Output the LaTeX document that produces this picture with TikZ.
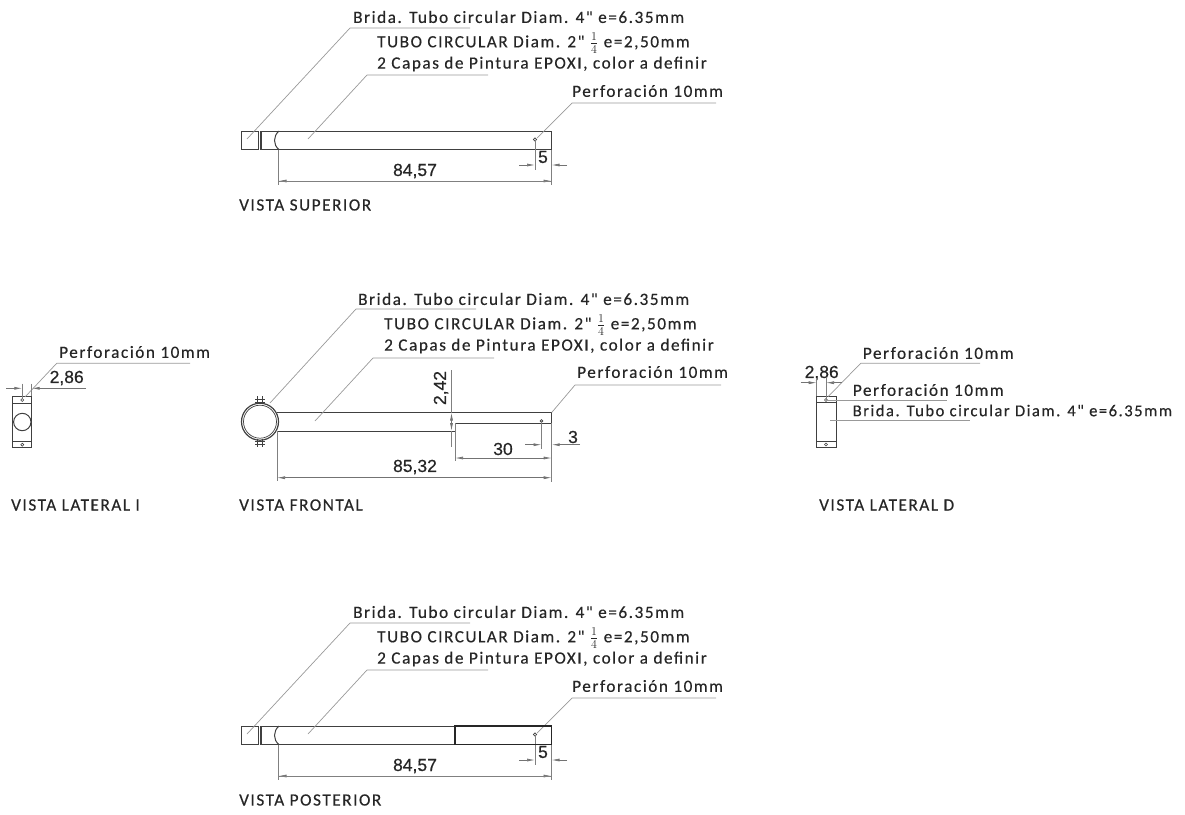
\documentclass[tikz,border=0pt]{standalone}
\usepackage{amsmath}
\usepackage{fontspec}
\usetikzlibrary{arrows.meta}
\newfontfamily\notefont[LetterSpace=9,FakeBold=0.4]{Carlito}
\setmainfont[FakeBold=0.5]{Liberation Sans}
\begin{document}
\begin{tikzpicture}[
		x=1pt, y=-1pt,
		note/.style={anchor=west, inner sep=0pt, font=\notefont\fontsize{17.2}{18}\selectfont, text=black!85},
		title/.style={anchor=west, inner sep=0pt, font=\notefont\fontsize{17.2}{18}\selectfont, text=black!85},
		measure/.style={inner sep=0pt, font=\fontsize{17.5}{18}\selectfont, text=black!85},
		part/.style={draw=black!75, line width=1pt},
		leader/.style={draw=black!40, line width=0.7pt},
		extline/.style={draw=black!50, line width=0.7pt},
		dim/.style={draw=black!55, line width=0.7pt, -{Latex[length=8pt,width=3pt]}}
		]
		\useasboundingbox (0,0) rectangle (1185,814);
		
		% Superior and posterior views
		\foreach \v/\dy/\name in {sup/0/VISTA SUPERIOR, pos/595/VISTA POSTERIOR}
		{
			\begin{scope}[yshift=-\dy pt]
				\node[note] (\v brida) at (353,17) {Brida. Tubo circular Diam. 4" e=6.35mm};
				\node[note] (\v tubo) at (377,43) {TUBO CIRCULAR Diam. 2" $\frac{1}{4}$ e=2,50mm};
				\node[note] (\v capas) at (377,64) {2 Capas de Pintura EPOXI, color a definir};
				\node[note] (\v perf) at (572,91) {Perforación 10mm};
				\node[title] (\v title) at (239,205) {\name};
				\node[measure] (\v five) at (543,157) {5};
				\node[measure] (\v total) at (415,171) {84,57};
				
				\draw[part] (241.5,131) rectangle (258,149.5);
				\draw[part] (260,131) -- (260,149.5);
				\draw[part] (261.5,131) rectangle (551.5,149.5);
				\draw[part] (279,131) .. controls (273,136) and (273,145) .. (279,149.5);
				\coordinate (\v hole) at (535,139.5);
				\draw[part, line width=0.6pt] (\v hole) circle (1.6);
				
				% Leaders
				\coordinate (\v a) at (247,139);
				\coordinate (\v b) at (308,139);
				\coordinate (\v c) at (537,138);
				\draw[leader] (\v a) -- (350,28) -- (470,28);
				\draw[leader] (\v b) -- (367,75) -- (488,75);
				\draw[leader] (\v c) -- (572,103) -- (716,103);
				
				% Dimensions
				\coordinate (\v l) at (278.5,181);
				\coordinate (\v r) at (551.5,181);
				\draw[extline] (\v hole) -- (535,170);
				\draw[extline] (551.5,149.5) -- (\v r) -- (551.5,185);
				\draw[extline] (278.5,149.5) -- (\v l) -- (278.5,185);
				\draw[dim] (\v l) ++(40,0) -- (\v l);
				\draw[dim] (\v r) ++(-40,0) -- (\v r);
				\draw[extline] (\v l) -- (\v r);
				\coordinate (\v x) at (535,165);
				\coordinate (\v y) at (551.5,165);
				\draw[dim] (519,165) -- (\v x);
				\draw[dim] (567,165) -- (\v y);
			\end{scope}
		}
		
		% Step on the posterior view
		\draw[part, line width=1.2pt, draw=black!85] (455,726) rectangle (551.5,744.5);
		
		% Frontal view
		\node[note] (fbrida) at (358,299) {Brida. Tubo circular Diam. 4" e=6.35mm};
		\node[note] (ftubo) at (384,325) {TUBO CIRCULAR Diam. 2" $\frac{1}{4}$ e=2,50mm};
		\node[note] (fcapas) at (384,346) {2 Capas de Pintura EPOXI, color a definir};
		\node[note] (fperf) at (577,372) {Perforación 10mm};
		\node[title] (ftitle) at (239,505) {VISTA FRONTAL};
		\node[measure, rotate=90] (fgap) at (441,388) {2,42};
		\node[measure] (fthirty) at (503,449) {30};
		\node[measure] (fthree) at (573,437) {3};
		\node[measure] (ftotal) at (415,467) {85,32};
		
		\coordinate (fcenter) at (260,421.7);
		\draw[part, line width=1.2pt] (fcenter) circle (18.5);
		\draw[part, line width=0.7pt] (fcenter) circle (16.5);
		\foreach \xa in {257.7, 262.3}
		{
			\draw[part, line width=0.7pt] (\xa,396) -- (\xa,404);
			\draw[part, line width=0.7pt] (\xa,439) -- (\xa,447);
		}
		\foreach \ya in {399, 402, 441, 444}
		\draw[part, line width=0.7pt] (255,\ya) -- (265,\ya);
		\draw[part] (277,412.5) -- (551.7,412.5) -- (551.7,423.3) -- (455,423.3) -- (455,431) -- (277,431);
		\coordinate (fhole) at (541.5,421);
		\draw[part, line width=0.6pt] (fhole) circle (1.4);
		
		\coordinate (fa) at (270,403);
		\coordinate (fb) at (315,421);
		\coordinate (fc) at (551.7,412.5);
		\draw[leader] (fa) -- (356,309) -- (476,309);
		\draw[leader] (fb) -- (373,358) -- (494,358);
		\draw[leader] (fc) -- (575,385) -- (721,385);
		
		\coordinate (fgapt) at (451.5,412.5);
		\coordinate (fgapb) at (451.5,431);
		\draw[extline] (451.5,370) -- (fgapt);
		\draw[dim] (451.5,424) -- (fgapt);
		\draw[dim] (451.5,420) -- (fgapb);
		\draw[extline] (fgapb) -- (451.5,447);
		
		\coordinate (fthl) at (455,458);
		\coordinate (fthr) at (551.7,458);
		\coordinate (ftol) at (277,477.7);
		\coordinate (ftor) at (551.7,477.7);
		\coordinate (fthh) at (541.5,444.7);
		\coordinate (fthe) at (551.7,444.7);
		\draw[extline] (455,423.3) -- (455,461);
		\draw[extline] (fhole) -- (541.5,449);
		\draw[extline] (551.7,423.3) -- (551.7,481.7);
		\draw[extline] (277,431) -- (277,481);
		\draw[dim] (503,458) -- (fthl);
		\draw[dim] (503,458) -- (fthr);
		\draw[dim] (415,477.7) -- (ftol);
		\draw[dim] (415,477.7) -- (ftor);
		\draw[dim] (525,444.7) -- (fthh);
		\draw[dim] (580,444.7) -- (fthe);
		
		% Lateral I
		\node[note] (iperf) at (59,352) {Perforación 10mm};
		\node[measure] (idim) at (66.7,378) {2,86};
		\node[title] (ititle) at (11,505) {VISTA LATERAL I};
		
		\draw[part] (12.3,396) rectangle (31.7,447.7);
		\draw[part] (12.3,403.3) -- (31.7,403.3);
		\draw[part] (12.3,441.7) -- (31.7,441.7);
		\coordinate (icenter) at (22.3,422);
		\coordinate (ihole) at (22.3,400);
		\coordinate (iholeb) at (22.3,444.7);
		\draw[part] (icenter) circle (8.7);
		\draw[part, line width=0.6pt] (ihole) circle (1.5);
		\draw[part, line width=0.6pt] (iholeb) circle (1.5);
		
		\coordinate (ia) at (25,397);
		\draw[leader] (ia) -- (56.7,363.3) -- (190,363.3);
		\coordinate (il) at (22.3,388.3);
		\coordinate (ir) at (31.7,388.3);
		\draw[extline] (22.3,383.5) -- (22.3,398);
		\draw[extline] (31.7,383.5) -- (31.7,396);
		\draw[dim] (6,388.3) -- (il);
		\draw[dim] (86,388.3) -- (ir);
		
		% Lateral D
		\node[note] (dperf) at (862.7,353) {Perforación 10mm};
		\node[note] (dperfb) at (852.7,390) {Perforación 10mm};
		\node[note, font=\notefont\fontsize{16.6}{18}\selectfont] (dbrida) at (852.5,410.5) {Brida. Tubo circular Diam. 4" e=6.35mm};
		\node[measure] (ddim) at (821.7,373) {2,86};
		\node[title] (dtitle) at (819,505) {VISTA LATERAL D};
		
		\draw[part] (816.7,396) rectangle (836,447.7);
		\draw[part] (816.7,402.7) -- (836,402.7);
		\draw[part] (816.7,441) -- (836,441);
		\coordinate (dhole) at (826,400);
		\coordinate (dholeb) at (826,444.5);
		\draw[part, line width=0.6pt] (dhole) circle (1.5);
		\draw[part, line width=0.6pt] (dholeb) circle (1.5);
		
		\coordinate (da) at (828,396.7);
		\coordinate (db) at (830,420);
		\draw[leader] (da) -- (860.7,363.3) -- (980,363.3);
		\draw[leader] (dhole) -- (946.7,400);
		\draw[leader] (db) -- (970,420);
		\coordinate (dl) at (816.7,382.7);
		\coordinate (dr) at (826,382.7);
		\draw[extline] (816.7,378) -- (816.7,396);
		\draw[extline] (826,378) -- (dhole);
		\draw[dim] (800.7,382.7) -- (dl);
		\draw[dim] (841.7,382.7) -- (dr);
		
	\end{tikzpicture}
\end{document}
